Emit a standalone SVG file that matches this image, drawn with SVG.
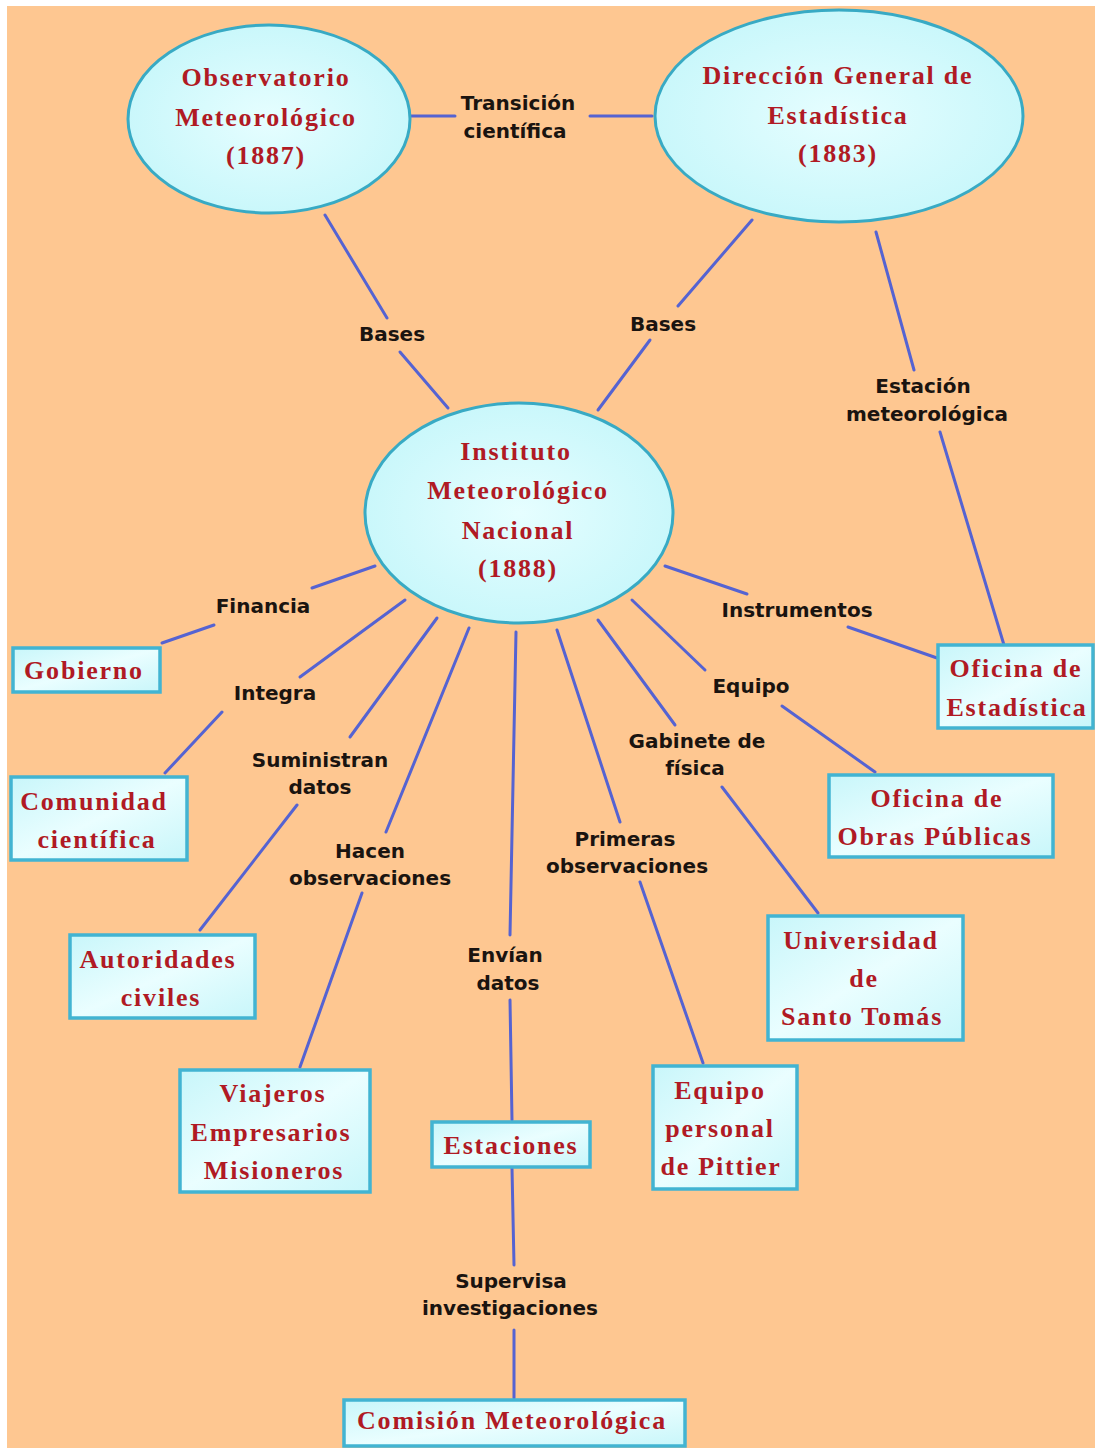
<svg xmlns="http://www.w3.org/2000/svg" width="1095" height="1448" viewBox="0 0 1095 1448">
<defs>
<radialGradient id="gE" cx="0.5" cy="0.5" r="0.6">
<stop offset="0" stop-color="#E6FEFF"/>
<stop offset="1" stop-color="#C4F6FA"/>
</radialGradient>
<linearGradient id="gB" x1="0" y1="0" x2="1" y2="1">
<stop offset="0" stop-color="#C8F6FA"/>
<stop offset="0.5" stop-color="#EAFEFF"/>
<stop offset="1" stop-color="#C8F6FA"/>
</linearGradient>
</defs>
<style>
.ell{fill:url(#gE);stroke:#38AAC4;stroke-width:3}
.box{fill:url(#gB);stroke:#42B4D2;stroke-width:3.5}
.nt{font-family:"Liberation Serif","Times New Roman",serif;font-weight:bold;font-size:26px;letter-spacing:1.8px;fill:#B01A24;text-anchor:middle}
.lb{font-family:"DejaVu Sans",Verdana,sans-serif;font-weight:bold;font-size:20px;fill:#1A1410;text-anchor:middle}
.cn line{stroke:#5563D2;stroke-width:3;stroke-linecap:round}
</style>
<rect x="0" y="0" width="1095" height="1448" fill="#FFFFFF"/>
<rect x="7" y="6" width="1088" height="1442" fill="#FEC791"/>

<g id="connectors" class="cn">
<line x1="410" y1="116" x2="455" y2="116"/>
<line x1="590" y1="116" x2="652" y2="116"/>
<line x1="325" y1="215" x2="387" y2="318"/>
<line x1="400" y1="352" x2="448" y2="408"/>
<line x1="752" y1="220" x2="678" y2="306"/>
<line x1="650" y1="340" x2="598" y2="410"/>
<line x1="876" y1="232" x2="914" y2="370"/>
<line x1="940" y1="432" x2="1004" y2="645"/>
<line x1="375" y1="566" x2="312" y2="588"/>
<line x1="214" y1="625" x2="162" y2="643"/>
<line x1="405" y1="600" x2="300" y2="677"/>
<line x1="222" y1="712" x2="165" y2="773"/>
<line x1="437" y1="618" x2="350" y2="737"/>
<line x1="297" y1="805" x2="200" y2="930"/>
<line x1="469" y1="628" x2="386" y2="832"/>
<line x1="362" y1="893" x2="300" y2="1067"/>
<line x1="516" y1="632" x2="510" y2="935"/>
<line x1="510" y1="1000" x2="512" y2="1120"/>
<line x1="512" y1="1168" x2="514" y2="1265"/>
<line x1="514" y1="1330" x2="514" y2="1398"/>
<line x1="557" y1="630" x2="620" y2="822"/>
<line x1="640" y1="882" x2="703" y2="1063"/>
<line x1="598" y1="620" x2="675" y2="725"/>
<line x1="722" y1="787" x2="818" y2="913"/>
<line x1="632" y1="600" x2="705" y2="670"/>
<line x1="782" y1="706" x2="875" y2="772"/>
<line x1="665" y1="566" x2="747" y2="594"/>
<line x1="848" y1="627" x2="937" y2="658"/>
</g>

<g id="labels">
<text class="lb" x="518" y="110">Transición</text>
<text class="lb" x="515" y="138">científica</text>
<text class="lb" x="392" y="341">Bases</text>
<text class="lb" x="663" y="331">Bases</text>
<text class="lb" x="923" y="393">Estación</text>
<text class="lb" x="927" y="421">meteorológica</text>
<text class="lb" x="263" y="613">Financia</text>
<text class="lb" x="275" y="700">Integra</text>
<text class="lb" x="320" y="767">Suministran</text>
<text class="lb" x="320" y="794">datos</text>
<text class="lb" x="370" y="858">Hacen</text>
<text class="lb" x="370" y="885">observaciones</text>
<text class="lb" x="505" y="962">Envían</text>
<text class="lb" x="508" y="990">datos</text>
<text class="lb" x="511" y="1288">Supervisa</text>
<text class="lb" x="510" y="1315">investigaciones</text>
<text class="lb" x="625" y="846">Primeras</text>
<text class="lb" x="627" y="873">observaciones</text>
<text class="lb" x="697" y="748">Gabinete de</text>
<text class="lb" x="695" y="775">física</text>
<text class="lb" x="751" y="693">Equipo</text>
<text class="lb" x="797" y="617">Instrumentos</text>
</g>

<g id="n-observatorio">
<ellipse class="ell" cx="269" cy="119" rx="141" ry="94"/>
<text class="nt" x="266" y="86">Observatorio</text>
<text class="nt" x="266" y="126">Meteorológico</text>
<text class="nt" x="266" y="164">(1887)</text>
</g>
<g id="n-direccion">
<ellipse class="ell" cx="839" cy="116" rx="184" ry="106"/>
<text class="nt" x="838" y="84">Dirección General de</text>
<text class="nt" x="838" y="124">Estadística</text>
<text class="nt" x="838" y="162">(1883)</text>
</g>
<g id="n-instituto">
<ellipse class="ell" cx="519" cy="513" rx="154" ry="110"/>
<text class="nt" x="516" y="460">Instituto</text>
<text class="nt" x="518" y="499">Meteorológico</text>
<text class="nt" x="518" y="539">Nacional</text>
<text class="nt" x="518" y="577">(1888)</text>
</g>
<g id="n-gobierno">
<rect class="box" x="13" y="648" width="147" height="44"/>
<text class="nt" x="84" y="679">Gobierno</text>
</g>
<g id="n-comunidad">
<rect class="box" x="11" y="777" width="176" height="83"/>
<text class="nt" x="94" y="810">Comunidad</text>
<text class="nt" x="97" y="848">científica</text>
</g>
<g id="n-autoridades">
<rect class="box" x="70" y="935" width="185" height="83"/>
<text class="nt" x="158" y="968">Autoridades</text>
<text class="nt" x="161" y="1006">civiles</text>
</g>
<g id="n-viajeros">
<rect class="box" x="180" y="1070" width="190" height="122"/>
<text class="nt" x="273" y="1102">Viajeros</text>
<text class="nt" x="271" y="1141">Empresarios</text>
<text class="nt" x="274" y="1179">Misioneros</text>
</g>
<g id="n-estaciones">
<rect class="box" x="432" y="1122" width="158" height="45"/>
<text class="nt" x="511" y="1154">Estaciones</text>
</g>
<g id="n-comision">
<rect class="box" x="344" y="1400" width="341" height="46"/>
<text class="nt" x="512" y="1429">Comisión Meteorológica</text>
</g>
<g id="n-pittier">
<rect class="box" x="653" y="1066" width="144" height="123"/>
<text class="nt" x="720" y="1099">Equipo</text>
<text class="nt" x="720" y="1137">personal</text>
<text class="nt" x="721" y="1175">de Pittier</text>
</g>
<g id="n-universidad">
<rect class="box" x="768" y="916" width="195" height="124"/>
<text class="nt" x="861" y="949">Universidad</text>
<text class="nt" x="864" y="987">de</text>
<text class="nt" x="862" y="1025">Santo Tomás</text>
</g>
<g id="n-obras">
<rect class="box" x="829" y="775" width="224" height="82"/>
<text class="nt" x="937" y="807">Oficina de</text>
<text class="nt" x="935" y="845">Obras Públicas</text>
</g>
<g id="n-oficina-estadistica">
<rect class="box" x="938" y="645" width="155" height="83"/>
<text class="nt" x="1016" y="677">Oficina de</text>
<text class="nt" x="1017" y="716">Estadística</text>
</g>
</svg>
